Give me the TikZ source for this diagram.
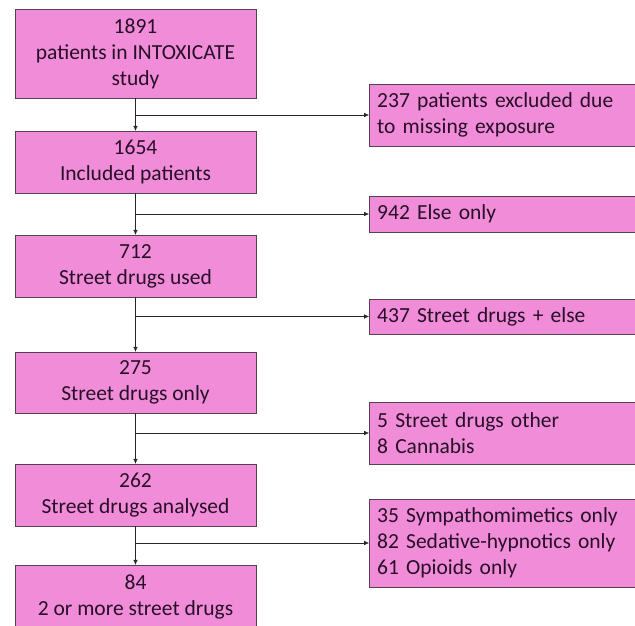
\documentclass[tikz,border=0pt]{standalone}
\usepackage{fontspec}
\setmainfont{Carlito}
\usetikzlibrary{arrows.meta}
\definecolor{boxpink}{RGB}{241,140,216}
\definecolor{boxline}{RGB}{85,65,85}
\definecolor{boxtext}{RGB}{40,15,40}
\tikzset{
  flowbox/.style={draw=boxline, fill=boxpink, text=boxtext, minimum width=241pt,
    align=center, inner sep=0pt, font=\fontsize{21.5}{26}\selectfont},
  sidebox/.style={draw=boxline, fill=boxpink, text=boxtext, anchor=west,
    text width=264pt, inner xsep=8pt, inner ysep=0pt, align=left,
    font=\fontsize{21.5}{26}\selectfont},
  flowarrow/.style={draw=black!85, -{Latex[length=5pt,width=4.5pt]}}
}
\begin{document}
\begin{tikzpicture}[x=1pt,y=-1pt]
    \useasboundingbox (0,0) rectangle (635,625);
    \clip (0,0) rectangle (635,625);

    % main column
    \node[flowbox, minimum height=89pt] (total) at (135.5,53.5) {1891\\patients in INTOXICATE\\study};
    \node[flowbox, minimum height=62pt] (included) at (135.5,162) {1654\\Included patients};
    \node[flowbox, minimum height=62pt] (street) at (135.5,266) {712\\Street drugs used};
    \node[flowbox, minimum height=61pt] (streetonly) at (135.5,382.5) {275\\Street drugs only};
    \node[flowbox, minimum height=62pt] (analysed) at (135.5,495) {262\\Street drugs analysed};
    \node[flowbox, minimum height=63pt] (multi) at (135.5,596.5) {84\\2 or more street drugs};

    % side boxes
    \node[sidebox, minimum height=62pt] (excluded) at (369,115) {237 patients excluded due\\to missing exposure};
    \node[sidebox, minimum height=36pt] (elseonly) at (369,214) {942 Else only};
    \node[sidebox, minimum height=35pt] (streetelse) at (369,316.5) {437 Street drugs + else};
    \node[sidebox, minimum height=62pt] (other) at (369,433) {5 Street drugs other\\8 Cannabis};
    \node[sidebox, minimum height=88pt] (single) at (369,543) {35 Sympathomimetics only\\82 Sedative-hypnotics only\\61 Opioids only};

    % vertical arrows
    \draw[flowarrow] (total) -- (included);
    \draw[flowarrow] (included) -- (street);
    \draw[flowarrow] (street) -- (streetonly);
    \draw[flowarrow] (streetonly) -- (analysed);
    \draw[flowarrow] (analysed) -- (multi);

    % side arrows
    \draw[flowarrow] (total.south |- excluded.west) -- (excluded.west);
    \draw[flowarrow] (included.south |- elseonly.west) -- (elseonly.west);
    \draw[flowarrow] (street.south |- streetelse.west) -- (streetelse.west);
    \draw[flowarrow] (streetonly.south |- other.west) -- (other.west);
    \draw[flowarrow] (analysed.south |- single.west) -- (single.west);
\end{tikzpicture}
\end{document}
